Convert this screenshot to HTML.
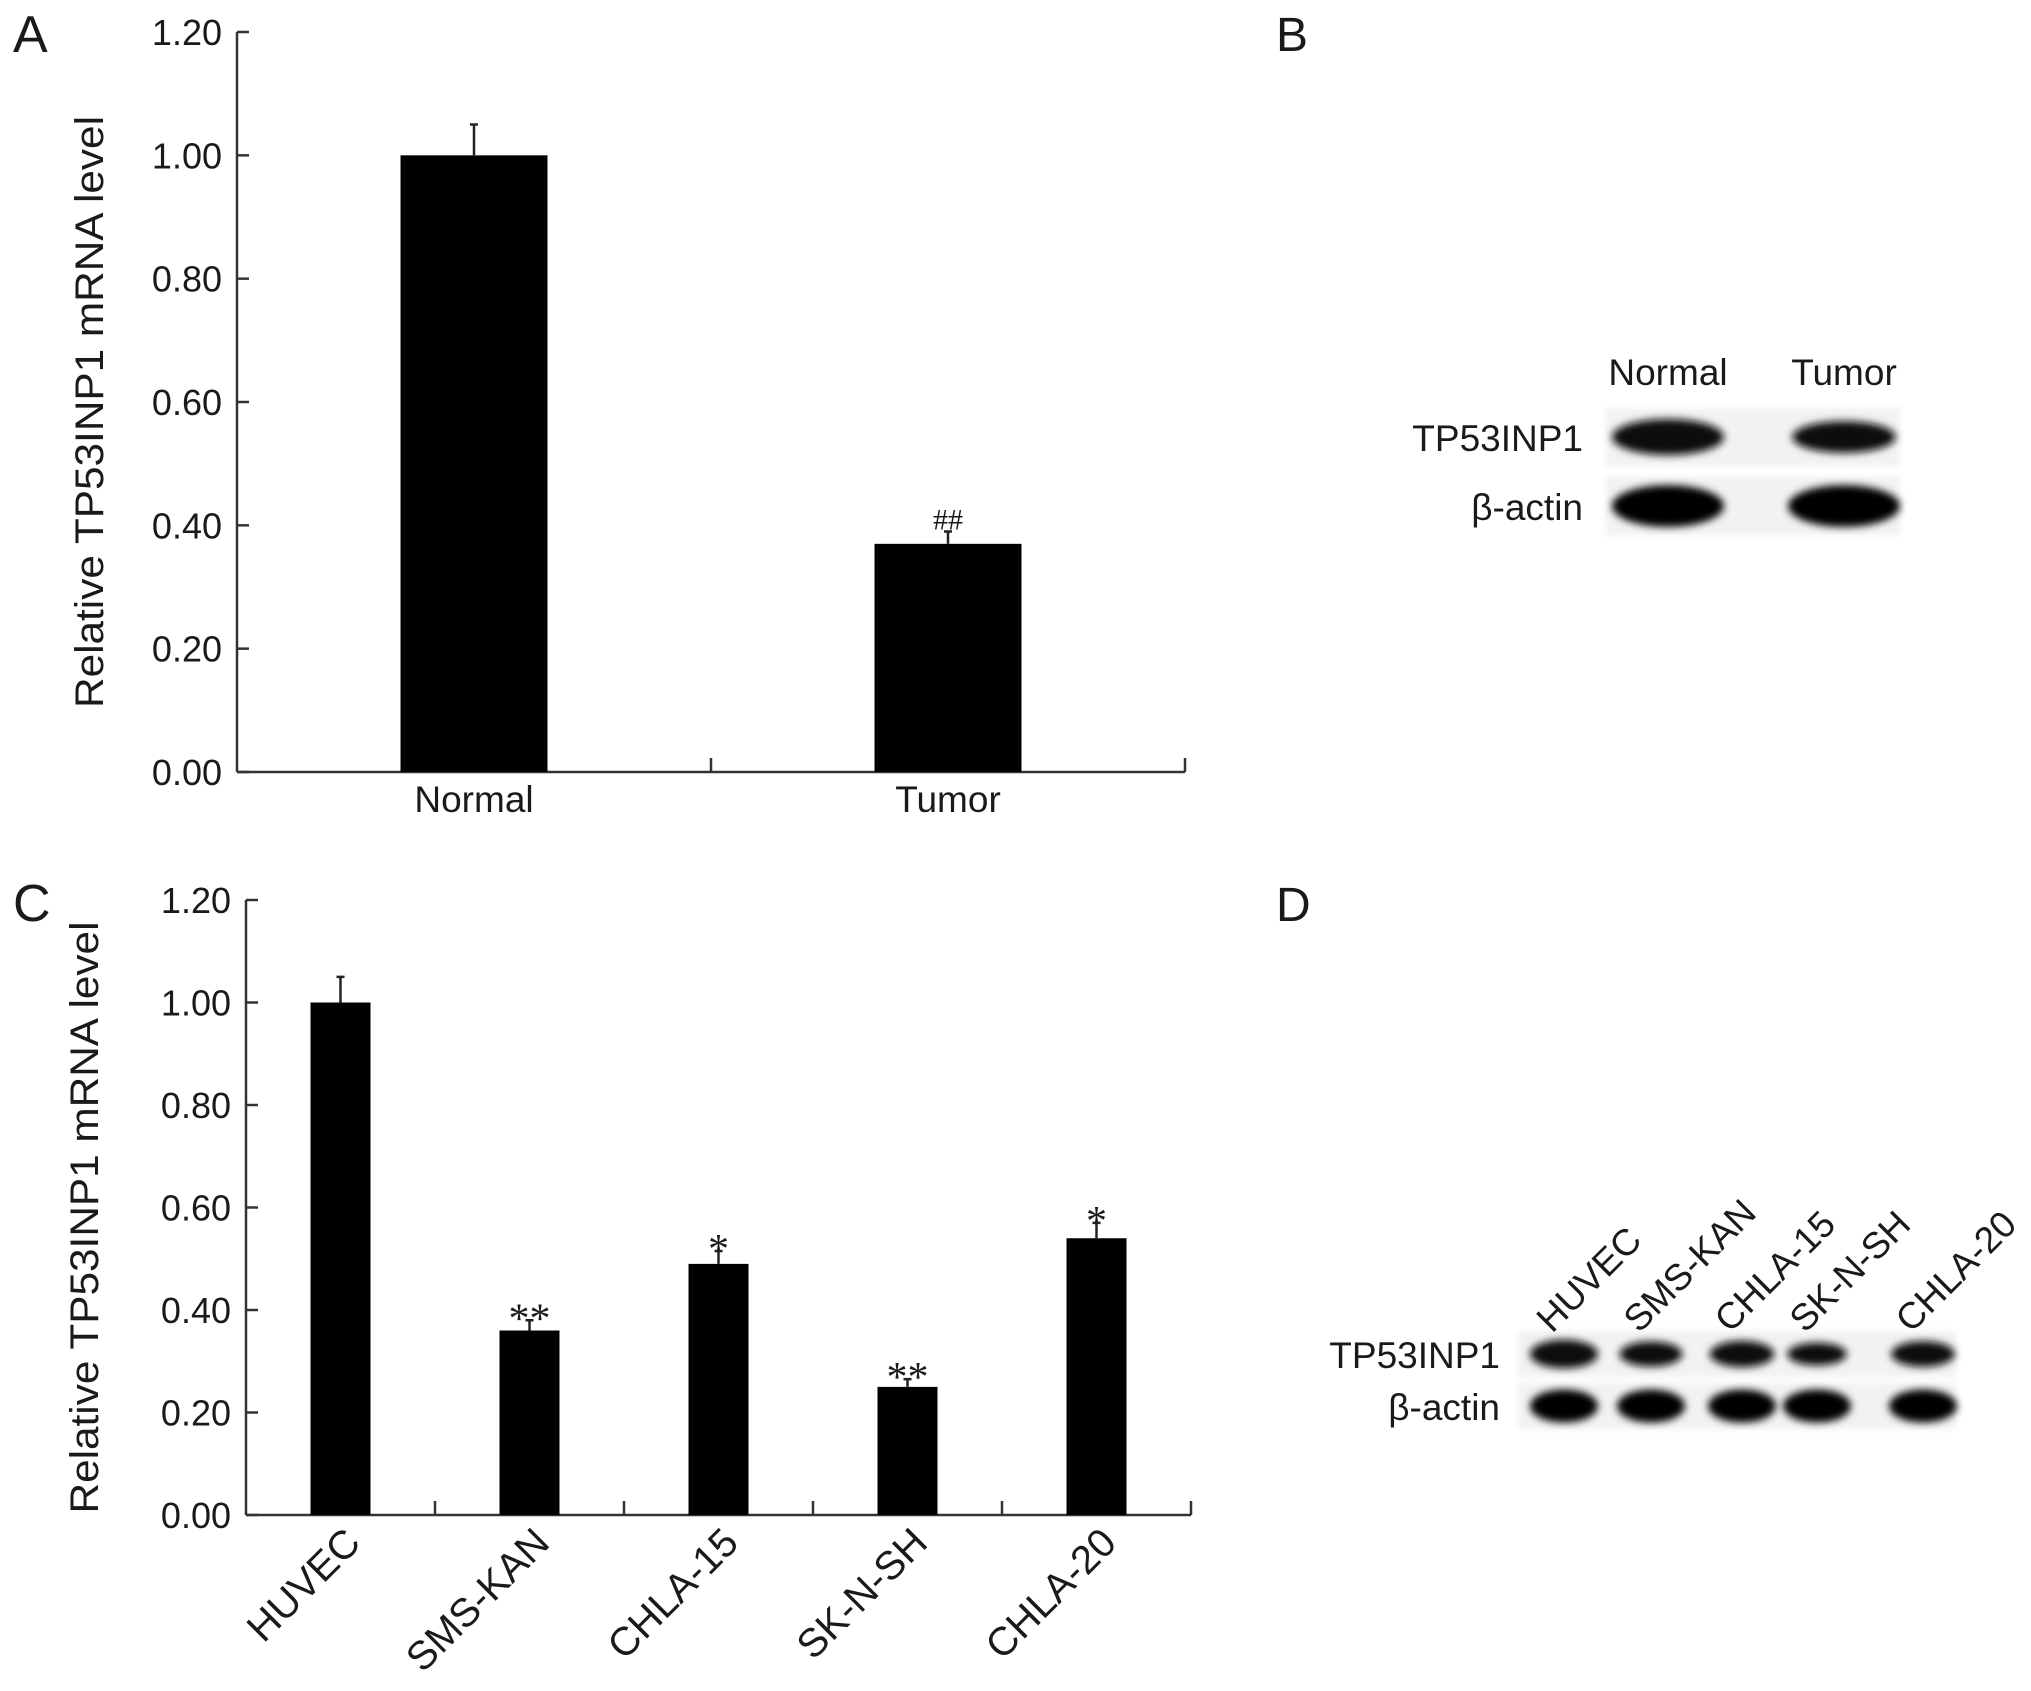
<!DOCTYPE html>
<html><head><meta charset="utf-8"><style>
html,body{margin:0;padding:0;background:#fff;}
svg{display:block;}
text{font-family:"Liberation Sans",Arial,sans-serif;fill:#1a1a1a;}
</style></head><body>
<svg id="fig" width="2031" height="1691" viewBox="0 0 2031 1691" xmlns="http://www.w3.org/2000/svg">
<defs>
<filter id="blur" x="-30%" y="-60%" width="160%" height="220%"><feGaussianBlur stdDeviation="4"/></filter>
<filter id="blur2" x="-10%" y="-20%" width="120%" height="140%"><feGaussianBlur stdDeviation="3"/></filter>
</defs>
<g id="panelA"></g>
<g id="panelC"></g>
<g id="panelB"></g>
<g id="panelD"></g>
</svg>
<script>
const catsA = ["Normal", "Tumor"];
const valsA = [1.00, 0.37];
const errsA = [0.05, 0.02];
const marksA = ["", "##"];
const catsC = ["HUVEC", "SMS-KAN", "CHLA-15", "SK-N-SH", "CHLA-20"];
const valsC = [1.00, 0.36, 0.49, 0.25, 0.54];
const errsC = [0.05, 0.02, 0.025, 0.015, 0.03];
const marksC = ["", "**", "*", "**", "*"];
const yTicks = ["0.00", "0.20", "0.40", "0.60", "0.80", "1.00", "1.20"];
const laneB = ["Normal", "Tumor"];
const bandB1 = [1.0, 0.7];
const laneD = ["HUVEC", "SMS-KAN", "CHLA-15", "SK-N-SH", "CHLA-20"];
const bandD1 = [1.0, 0.7, 0.8, 0.5, 0.75];

const NS = "http://www.w3.org/2000/svg";
function mk(parent, tag, attrs, txt){
  const e = document.createElementNS(NS, tag);
  for (const k in attrs) e.setAttribute(k, attrs[k]);
  if (txt !== undefined) e.textContent = txt;
  parent.appendChild(e);
  return e;
}

function barChart(g, cfg){
  const {x0, x1, y0, yTop, cats, vals, errs, marks, barW, letter, letterY, titleX, rotated} = cfg;
  const yMax = 1.2;
  const y = v => y0 - (v / yMax) * (y0 - yTop);
  const band = (x1 - x0) / cats.length;
  const xc = i => x0 + band * (i + 0.5);
  let e;
  e = mk(g, "text", {x: 13, y: letterY, "font-size": 52});
  e.textContent = letter;
  
  
  e = mk(g, "line", {x1: x0, y1: yTop, x2: x0, y2: y0, stroke: "#333", "stroke-width": 2.5});
  
  
  e = mk(g, "line", {x1: x0, y1: y0, x2: x1, y2: y0, stroke: "#333", "stroke-width": 2.5});
  
  
  yTicks.forEach((t, i) => {
    const v = parseFloat(t);
    const yy = y(v);
    const l = mk(g, "line", {x1: x0, y1: yy, x2: x0 + 12, y2: yy, stroke: "#333", "stroke-width": 2.5});
    
    
    const tx = mk(g, "text", {x: x0 - 15, y: yy + 13, "font-size": 36, "text-anchor": "end"}, t);
    
    
  });
  for (let i = 1; i <= cats.length; i++) {
    const xx = x0 + band * i;
    const l = mk(g, "line", {x1: xx, y1: y0, x2: xx, y2: y0 - 14, stroke: "#333", "stroke-width": 2.5});
    
    
  }
  const yt = mk(g, "text", {x: 0, y: 0, "font-size": 40, "text-anchor": "middle",
    transform: `translate(${titleX},${(yTop + y0) / 2 + 10}) rotate(-90)`, textLength: 592, lengthAdjust: "spacingAndGlyphs"}, "Relative TP53INP1 mRNA level");
  
  
  cats.forEach((c, i) => {
    const cx = xc(i);
    const top = y(vals[i]);
    const r = mk(g, "rect", {x: cx - barW / 2, y: top, width: barW, height: y0 - top, fill: "#000"});
    
    
    const et = y(vals[i] + errs[i]);
    const el = mk(g, "line", {x1: cx, y1: top, x2: cx, y2: et, stroke: "#222", "stroke-width": 2.5});
    
    
    const ec = mk(g, "line", {x1: cx - 4, y1: et, x2: cx + 4, y2: et, stroke: "#222", "stroke-width": 2.5});
    
    
    if (marks[i]) {
      const isHash = marks[i][0] === "#";
      const m = mk(g, "text", {x: cx, y: isHash ? et - 2 : et + 12, "font-size": isHash ? 30 : 42, "text-anchor": "middle",
        style: 'font-family:"Liberation Serif",serif;'}, marks[i]);
      
      
    }
    let lab;
    if (rotated) {
      lab = mk(g, "text", {x: 0, y: 0, "font-size": 40, "text-anchor": "end",
        transform: `translate(${cx + 22},${y0 + 30}) rotate(-45)`}, c);
    } else {
      lab = mk(g, "text", {x: cx, y: y0 + 40, "font-size": 37, "text-anchor": "middle"}, c);
    }
    
    
  });
}

barChart(document.getElementById("panelA"), {x0: 237, x1: 1185, y0: 772, yTop: 32, cats: catsA, vals: valsA, errs: errsA, marks: marksA,
  barW: 147, letter: "A", letterY: 52, titleX: 103, rotated: false});
barChart(document.getElementById("panelC"), {x0: 246, x1: 1191, y0: 1515, yTop: 900, cats: catsC, vals: valsC, errs: errsC, marks: marksC,
  barW: 60, letter: "C", letterY: 921, titleX: 98, rotated: true});

function blot(g, cfg){
  const {letter, letterY, lanes, b1, boxX, boxW, r1y, r2y, rowH, laneX, laneW, labelRight, headerRot, headerY, fs} = cfg;
  let e = mk(g, "text", {x: 1276, y: letterY, "font-size": 48}, letter);
  
  
  [r1y, r2y].forEach((ry, ri) => {
    const bg = mk(g, "rect", {x: boxX, y: ry, width: boxW, height: rowH, fill: "#f2f2f2", filter: "url(#blur2)"});
    
    
  });
  lanes.forEach((ln, i) => {
    const cx = laneX[i];
    const h1 = rowH * 0.62 * (0.6 + 0.4 * b1[i]);
    const w1 = laneW * (0.75 + 0.25 * b1[i]);
    const b = mk(g, "ellipse", {cx: cx, cy: r1y + rowH / 2, rx: w1 / 2, ry: h1 / 2, fill: "#111", filter: "url(#blur)"});
    
    
    const a = mk(g, "ellipse", {cx: cx, cy: r2y + rowH / 2, rx: laneW / 2, ry: rowH * 0.36, fill: "#050505", filter: "url(#blur)"});
    
    
    let h;
    if (headerRot) {
      h = mk(g, "text", {x: 0, y: 0, "font-size": fs, transform: `translate(${cx - 12},${headerY}) rotate(-45)`}, ln);
    } else {
      h = mk(g, "text", {x: cx, y: headerY, "font-size": fs, "text-anchor": "middle"}, ln);
    }
    
    
  });
  let t = mk(g, "text", {x: labelRight, y: r1y + rowH / 2 + 14, "font-size": fs, "text-anchor": "end"}, "TP53INP1");
  
  
  t = mk(g, "text", {x: labelRight, y: r2y + rowH / 2 + 14, "font-size": fs, "text-anchor": "end"}, "β-actin");
  
  
}

blot(document.getElementById("panelB"), {letter: "B", letterY: 51, lanes: laneB, b1: bandB1, boxX: 1606, boxW: 294,
  r1y: 408, r2y: 477, rowH: 58, laneX: [1668, 1844], laneW: 112, labelRight: 1583, headerRot: false, headerY: 385, fs: 37});
blot(document.getElementById("panelD"), {letter: "D", letterY: 921, lanes: laneD, b1: bandD1, boxX: 1518, boxW: 438,
  r1y: 1331, r2y: 1383, rowH: 46, laneX: [1564, 1651, 1742, 1817, 1923], laneW: 68, labelRight: 1500, headerRot: true, headerY: 1334, fs: 37});
</script>
</body></html>
